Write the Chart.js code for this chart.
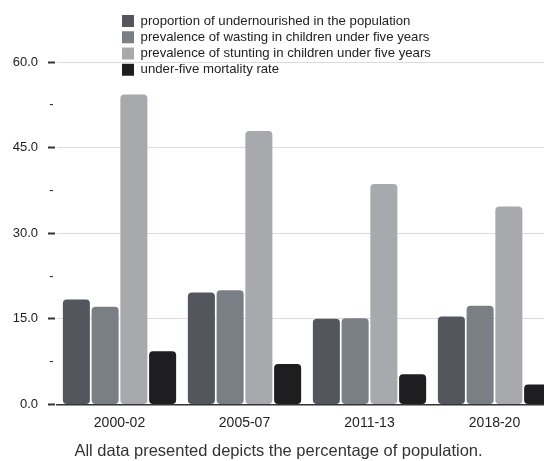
<!DOCTYPE html>
<html lang="en">
<head>
    <meta charset="UTF-8">
    <title>Undernourishment indicators</title>
    <script src="https://cdn.jsdelivr.net/npm/chart.js"></script>
    <style>
        html, body {
            margin: 0;
            padding: 0;
            background: #ffffff;
            overflow: hidden;
        }
    </style>
</head>
<body>
    <canvas id="grafica" width="560" height="461"></canvas>
    <script>
        // datos
        const periods = ['2000-02', '2005-07', '2011-13', '2018-20'];
        const undernourished = [18.4, 19.6, 15.0, 15.4];
        const wasting = [17.1, 20.0, 15.1, 17.3];
        const stunting = [54.3, 47.9, 38.6, 34.7];
        const mortality = [9.3, 7.1, 5.3, 3.5];
        const seriesNames = [
            'proportion of undernourished in the population',
            'prevalence of wasting in children under five years',
            'prevalence of stunting in children under five years',
            'under-five mortality rate'
        ];
        const seriesColors = ['#53565c', '#7a7e85', '#a7a9ac', '#1e1e20'];

        // mover la leyenda a su sitio (columna alineada a la izquierda)
        const legendSpot = {
            id: 'legendSpot',
            afterLayout(chart) {
                const lg = chart.legend;
                lg.left = 119;
                lg.top = 11.5;
                lg.right = lg.left + lg.width;
                lg.bottom = lg.top + lg.height;
            }
        };

        const series = [undernourished, wasting, stunting, mortality];
        const isMajor = v => v % 15 === 0;

        new Chart(document.getElementById('grafica'), {
            type: 'bar',
            data: {
                labels: periods,
                datasets: series.map((vals, i) => ({
                    label: seriesNames[i],
                    data: vals,
                    backgroundColor: seriesColors[i],
                    borderRadius: 4,
                    borderSkipped: false,
                    categoryPercentage: 0.92,
                    barPercentage: 0.94
                }))
            },
            options: {
                responsive: false,
                devicePixelRatio: 1,
                animation: false,
                layout: { padding: { top: 62, right: 3, left: 0, bottom: 0 } },
                plugins: {
                    legend: {
                        position: 'chartArea',
                        align: 'start',
                        labels: {
                            boxWidth: 12,
                            boxHeight: 12,
                            padding: 3,
                            color: '#222',
                            font: { family: 'Liberation Sans', size: 13.2 }
                        }
                    },
                    title: {
                        display: true,
                        position: 'bottom',
                        text: 'All data presented depicts the percentage of population.',
                        color: '#333',
                        font: { family: 'Liberation Sans', size: 16.5, weight: 'normal' },
                        padding: { top: 0, bottom: 0 }
                    },
                    tooltip: { enabled: false }
                },
                scales: {
                    x: {
                        grid: { display: false, drawTicks: false },
                        border: { display: true, color: '#333', width: 1.5 },
                        ticks: {
                            color: '#222',
                            padding: 10,
                            font: { family: 'Liberation Sans', size: 14 }
                        }
                    },
                    y: {
                        min: 0,
                        max: 60,
                        afterFit(scale) { scale.width = 57; },
                        border: { display: false },
                        grid: {
                            drawTicks: true,
                            tickLength: 9,
                            tickWidth: 2,
                            tickBorderDash: [7, 2],
                            tickColor: ctx => ctx.tick && isMajor(ctx.tick.value) ? '#333' : 'rgba(0,0,0,0)',
                            color: ctx => ctx.tick && isMajor(ctx.tick.value) ? '#dcdcdc' : 'rgba(0,0,0,0)',
                            lineWidth: 1
                        },
                        ticks: {
                            stepSize: 7.5,
                            padding: -5.7,
                            color: '#222',
                            font: { family: 'Liberation Sans', size: 13 },
                            callback: v => isMajor(v) ? v.toFixed(1) + '\u2003\u2009' : '-'
                        }
                    }
                }
            },
            plugins: [legendSpot]
        });
    </script>
</body>
</html>
